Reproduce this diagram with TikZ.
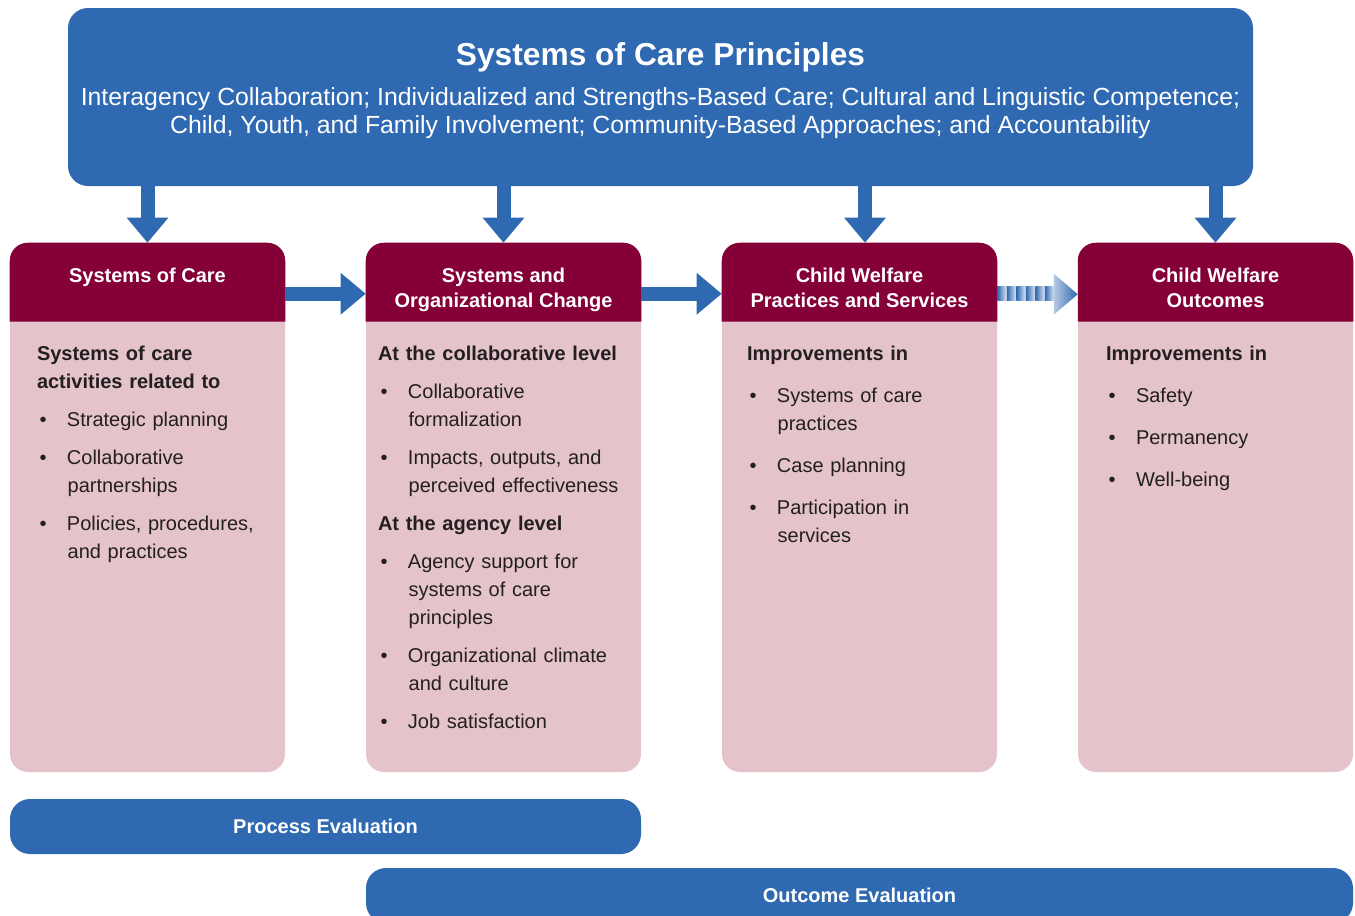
\documentclass[tikz,border=0pt]{standalone}
\usepackage{fontspec}
\setmainfont{Liberation Sans}
\usetikzlibrary{arrows.meta,positioning,calc}

\definecolor{socblue}{HTML}{2E69B2}
\definecolor{socred}{HTML}{840036}
\definecolor{socpink}{HTML}{E4C4CA}
\definecolor{socink}{HTML}{231F20}

\newcommand{\bitem}[1]{\par\noindent\hangindent=23pt\hangafter=1\hspace*{2pt}\makebox[20.5pt][l]{\textbullet}#1}

\begin{document}
\begin{tikzpicture}[x=0.75pt, y=-0.75pt,
    column/.style={rectangle, fill=socpink, rounded corners=13.5pt, minimum width=206.25pt, minimum height=396.75pt, inner sep=0pt},
    headtext/.style={anchor=north, inner sep=0pt, align=center, text=white, font=\bfseries\fontsize{15}{18.75}\selectfont},
    bodytext/.style={anchor=north west, inner sep=0pt, text width=190pt, align=left, text=socink, font=\fontsize{15}{21}\selectfont, execute at begin node={\setlength{\parskip}{#1}}},
    bar/.style={rectangle, fill=socblue, rounded corners=15pt, minimum height=41.25pt, text=white, font=\bfseries\fontsize{15}{18}\selectfont},
    flow/.style={draw=socblue, line width=10.5pt, -{Triangle[length=18.75pt, width=30pt]}}]

  \useasboundingbox (0,0) rectangle (1355,915);

  % principles on top
  \node[rectangle, fill=socblue, rounded corners=15pt, minimum width=888.75pt, minimum height=133.5pt] (principles) at (660.5,97) {};
  \node[anchor=north, inner sep=0pt, text=white, font=\bfseries\fontsize{23.8}{28}\selectfont, below=25.9pt of principles.north] (ptitle) {Systems of Care Principles};
  \node[anchor=north, inner sep=0pt, text=white, align=center, font=\fontsize{18.6}{21}\selectfont, below=60pt of principles.north] (plist) {Interagency Collaboration; Individualized and Strengths-Based Care; Cultural and Linguistic Competence;\\Child, Youth, and Family Involvement; Community-Based Approaches; and Accountability};

  % the four columns
  \node[column] (c1) at (147.5,507.5) {};
  \node[column] (c2) at (503.5,507.5) {};
  \node[column] (c3) at (859.5,507.5) {};
  \node[column] (c4) at (1215.5,507.5) {};

  \foreach \c in {c1,c2,c3,c4}
    \fill[socred, rounded corners=13.5pt] ([yshift=-59.25pt]\c.north west) -- (\c.north west) -- (\c.north east) -- ([yshift=-59.25pt]\c.north east);

  \node[headtext, below=18.4pt of c1.north] (h1) {Systems of Care};
  \node[headtext, below=18.4pt of c2.north] (h2) {Systems and\\Organizational Change};
  \node[headtext, below=18.4pt of c3.north] (h3) {Child Welfare\\Practices and Services};
  \node[headtext, below=18.4pt of c4.north] (h4) {Child Welfare\\Outcomes};

  \node[bodytext=7.5pt, below right=77.6pt and 20.25pt of c1.north west] (b1) {\textbf{Systems of care\\activities related to}
    \bitem{Strategic planning}
    \bitem{Collaborative\newline partnerships}
    \bitem{Policies, procedures,\newline and practices}\par};
  \node[bodytext=7.5pt, below right=77.6pt and 9pt of c2.north west] (b2) {\textbf{At the collaborative level}
    \bitem{Collaborative\newline formalization}
    \bitem{Impacts, outputs, and\newline perceived effectiveness}
    \par\noindent\textbf{At the agency level}
    \bitem{Agency support for\newline systems of care\newline principles}
    \bitem{Organizational climate\newline and culture}
    \bitem{Job satisfaction}\par};
  \node[bodytext=10.5pt, below right=77.6pt and 18.75pt of c3.north west] (b3) {\textbf{Improvements in}
    \bitem{Systems of care\newline practices}
    \bitem{Case planning}
    \bitem{Participation in\newline services}\par};
  \node[bodytext=10.5pt, below right=77.6pt and 21pt of c4.north west] (b4) {\textbf{Improvements in}
    \bitem{Safety}
    \bitem{Permanency}
    \bitem{Well-being}\par};

  % arrows
  \draw[flow] (principles.south -| c1.north) -- (c1.north);
  \draw[flow] (principles.south -| c2.north) -- (c2.north);
  \draw[flow] ($(principles.south -| c3.north)+(5.5,0)$) -- ($(c3.north)+(5.5,0)$);
  \draw[flow] (principles.south -| c4.north) -- (c4.north);

  \draw[flow] ($(c1.north east)+(0,51)$) -- ($(c2.north west)+(0,51)$);
  \draw[flow] ($(c2.north east)+(0,51)$) -- ($(c3.north west)+(0,51)$);

  % faded arrow
  \foreach \k in {0,...,5}
    \shade[left color=socblue, right color=socblue!15] ($(c3.north east)+(9.5*\k,44)$) rectangle ++(9.5,14);
  \shade[left color=socblue!35, right color=socblue] ($(c4.north west)+(-24,31)$) -- ($(c4.north west)+(0,51.5)$) -- ($(c4.north west)+(-24,72)$) -- cycle;

  % evaluation bars
  \node[bar, minimum width=473.25pt] (process) at (325.5,826.5) {Process Evaluation};
  \node[bar, minimum width=740.25pt] (outcome) at (859.5,895.5) {Outcome Evaluation};
\end{tikzpicture}
\end{document}
